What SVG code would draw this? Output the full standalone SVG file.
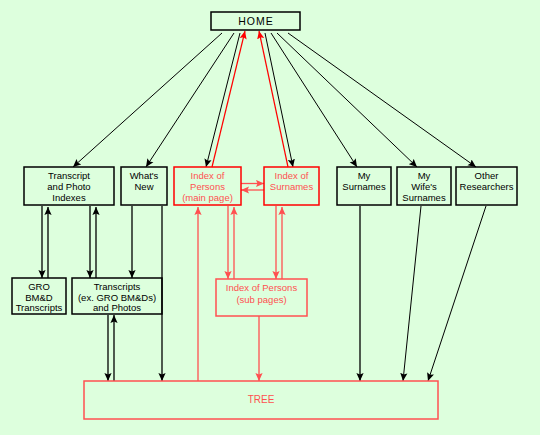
<svg xmlns="http://www.w3.org/2000/svg" width="540" height="435" viewBox="0 0 540 435">
<defs>
<marker id="ab" viewBox="-8 -4 8 8" refX="0" refY="0" markerWidth="8" markerHeight="8" markerUnits="userSpaceOnUse" orient="auto"><path d="M0,0 L-8,-3.6 L-6.5,0 L-8,3.6 Z" fill="#000"/></marker>
<marker id="ar" viewBox="-8 -4 8 8" refX="0" refY="0" markerWidth="8" markerHeight="8" markerUnits="userSpaceOnUse" orient="auto"><path d="M0,0 L-8,-3.6 L-6.5,0 L-8,3.6 Z" fill="#ff0000"/></marker>
<marker id="al" viewBox="-8 -4 8 8" refX="0" refY="0" markerWidth="8" markerHeight="8" markerUnits="userSpaceOnUse" orient="auto"><path d="M0,0 L-8,-3.6 L-6.5,0 L-8,3.6 Z" fill="#ff5050"/></marker>
<style>
.box{fill:none;stroke:#000;stroke-width:1.5}
.rbox{fill:none;stroke:#ff0000;stroke-width:1.5}
.lbox{fill:none;stroke:#ff5050;stroke-width:1.5}
text{font-family:"Liberation Sans",Arial,sans-serif;font-size:9.5px;text-anchor:middle;fill:#000}
.rt{fill:#ff5050}
.k{stroke:#000;stroke-width:1;fill:none;marker-end:url(#ab)}
.kv{stroke:#000;stroke-width:1.3;fill:none;marker-end:url(#ab)}
.r{stroke:#ff0000;stroke-width:1.2;fill:none;marker-end:url(#ar)}
.l{stroke:#ff5050;stroke-width:1.3;fill:none;marker-end:url(#al)}
</style>
</defs>
<rect width="540" height="435" fill="#ddffdd"/>
<g id="connectors">
<line class="k" x1="222" y1="33" x2="73" y2="167"/>
<line class="k" x1="234" y1="33" x2="146" y2="167"/>
<line class="k" x1="240" y1="33" x2="206" y2="167"/>
<line class="k" x1="265" y1="33" x2="293" y2="167"/>
<line class="k" x1="271" y1="33" x2="357" y2="167"/>
<line class="k" x1="277" y1="33" x2="417" y2="167"/>
<line class="k" x1="288" y1="33" x2="476" y2="167"/>
<line class="r" x1="212" y1="167" x2="245" y2="31"/>
<line class="r" x1="288" y1="167" x2="259" y2="31"/>
<line class="l" x1="241" y1="183.5" x2="264" y2="183.5"/>
<line class="l" x1="264" y1="190" x2="241" y2="190"/>
<line class="kv" x1="42" y1="206" x2="42" y2="278"/>
<line class="kv" x1="48" y1="278" x2="48" y2="207"/>
<line class="kv" x1="90" y1="206" x2="90" y2="278"/>
<line class="kv" x1="96" y1="278" x2="96" y2="207"/>
<line class="kv" x1="132" y1="206" x2="132" y2="278"/>
<line class="kv" x1="162" y1="206" x2="162" y2="381"/>
<line class="kv" x1="108" y1="315" x2="108" y2="381"/>
<line class="kv" x1="114" y1="381" x2="114" y2="315"/>
<line class="kv" x1="360" y1="206" x2="360" y2="381"/>
<line class="k" x1="421" y1="206" x2="403" y2="381"/>
<line class="k" x1="486" y1="206" x2="428" y2="381"/>
<line class="l" x1="198" y1="381" x2="198" y2="207"/>
<line class="l" x1="228" y1="206" x2="228" y2="279"/>
<line class="l" x1="234" y1="279" x2="234" y2="207"/>
<line class="l" x1="276" y1="206" x2="276" y2="279"/>
<line class="l" x1="282" y1="279" x2="282" y2="207"/>
<line class="l" x1="259" y1="316" x2="259" y2="381"/>
</g>
<g id="home"><rect class="box" x="211" y="12" width="89" height="18"/><text x="256" y="25" style="font-size:10.5px;letter-spacing:1px">HOME</text></g>
<g id="transcript-indexes"><rect class="box" x="24" y="167" width="90" height="38"/><text x="69" y="179">Transcript</text><text x="69" y="190">and Photo</text><text x="69" y="200.5">Indexes</text></g>
<g id="whats-new"><rect class="box" x="121" y="167" width="46" height="38"/><text x="144" y="179">What's</text><text x="144" y="190">New</text></g>
<g id="index-persons"><rect class="rbox" x="174" y="167" width="67" height="38"/><text class="rt" x="207.5" y="179">Index of</text><text class="rt" x="207.5" y="190">Persons</text><text class="rt" x="207.5" y="200.5">(main page)</text></g>
<g id="index-surnames"><rect class="rbox" x="264" y="167" width="55" height="38"/><text class="rt" x="291.5" y="179">Index of</text><text class="rt" x="291.5" y="190">Surnames</text></g>
<g id="my-surnames"><rect class="box" x="337" y="167" width="54" height="38"/><text x="364" y="179">My</text><text x="364" y="190">Surnames</text></g>
<g id="wifes-surnames"><rect class="box" x="397" y="167" width="54" height="38"/><text x="424" y="179">My</text><text x="424" y="190">Wife's</text><text x="424" y="200.5">Surnames</text></g>
<g id="other-researchers"><rect class="box" x="456" y="167" width="61" height="38"/><text x="486.5" y="179">Other</text><text x="486.5" y="190">Researchers</text></g>
<g id="gro"><rect class="box" x="12" y="278" width="54" height="36"/><text x="39" y="290">GRO</text><text x="39" y="300.5">BM&amp;D</text><text x="39" y="311">Transcripts</text></g>
<g id="transcripts-photos"><rect class="box" x="72" y="278" width="90" height="36"/><text x="117" y="290">Transcripts</text><text x="117" y="300.5">(ex. GRO BM&amp;Ds)</text><text x="117" y="311">and Photos</text></g>
<g id="index-persons-sub"><rect class="lbox" x="216" y="279" width="91" height="37"/><text class="rt" x="261.5" y="291">Index of Persons</text><text class="rt" x="261.5" y="302.5">(sub pages)</text></g>
<g id="tree"><rect class="lbox" x="84" y="381" width="354" height="38"/><text class="rt" x="261" y="403" style="font-size:10px">TREE</text></g>
</svg>
